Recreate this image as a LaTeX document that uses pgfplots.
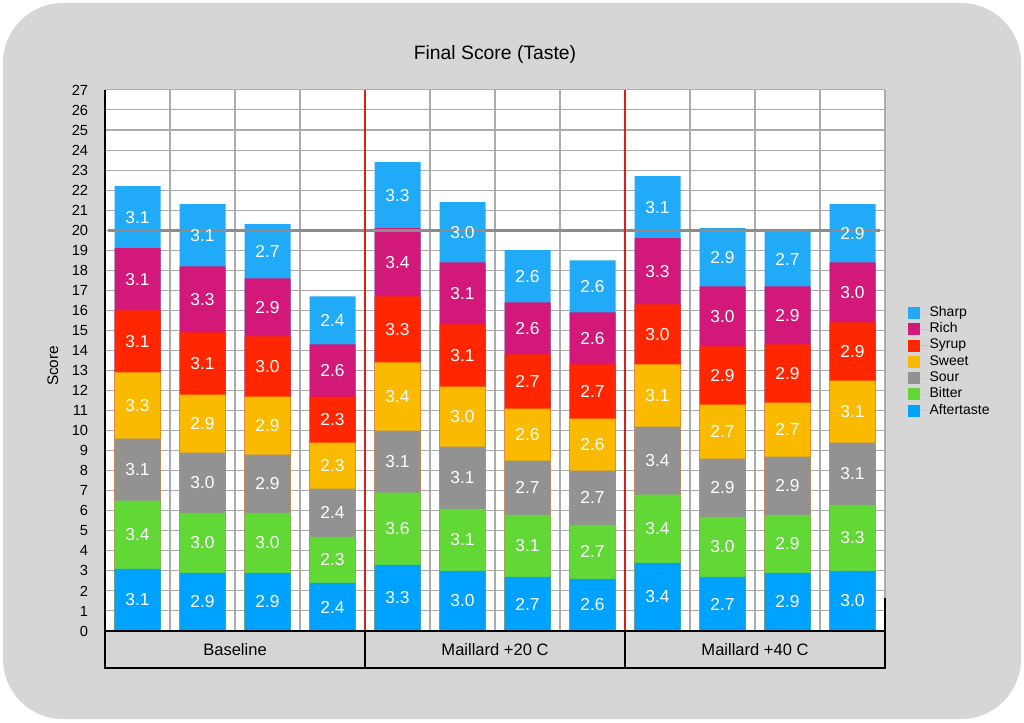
\documentclass[border=0pt]{standalone}
\usepackage{fontspec}
\setmainfont{Liberation Sans}
\usepackage{pgfplots}
\usepackage{pgfplotstable}
\pgfplotsset{compat=1.18}

\definecolor{bg}{RGB}{214,214,214}
\definecolor{cAft}{RGB}{0,162,255}
\definecolor{cBit}{RGB}{97,216,54}
\definecolor{cSour}{RGB}{146,146,146}
\definecolor{cSweet}{RGB}{250,186,0}
\definecolor{cSyrup}{RGB}{255,38,0}
\definecolor{cRich}{RGB}{210,24,120}
\definecolor{cSharp}{RGB}{32,170,248}
\definecolor{gridc}{RGB}{172,172,172}
\definecolor{linetw}{RGB}{140,140,140}
\definecolor{redl}{RGB}{220,30,30}

% a=Aftertaste b=Bitter c=Sour d=Sweet e=Syrup f=Rich g=Sharp
\pgfplotstableread{
x a b c d e f g
0 3.1 3.4 3.1 3.3 3.1 3.1 3.1
1 2.9 3.0 3.0 2.9 3.1 3.3 3.1
2 2.9 3.0 2.9 2.9 3.0 2.9 2.7
3 2.4 2.3 2.4 2.3 2.3 2.6 2.4
4 3.3 3.6 3.1 3.4 3.3 3.4 3.3
5 3.0 3.1 3.1 3.0 3.1 3.1 3.0
6 2.7 3.1 2.7 2.6 2.7 2.6 2.6
7 2.6 2.7 2.7 2.6 2.7 2.6 2.6
8 3.4 3.4 3.4 3.1 3.0 3.3 3.1
9 2.7 3.0 2.9 2.7 2.9 3.0 2.9
10 2.9 2.9 2.9 2.7 2.9 2.9 2.7
11 3.0 3.3 3.1 3.1 2.9 3.0 2.9
}\data
\pgfplotstablecreatecol[create col/expr={\thisrow{a}}]{ca}{\data}
\pgfplotstablecreatecol[create col/expr={\thisrow{ca}+\thisrow{b}}]{cb}{\data}
\pgfplotstablecreatecol[create col/expr={\thisrow{cb}+\thisrow{c}}]{cc}{\data}
\pgfplotstablecreatecol[create col/expr={\thisrow{cc}+\thisrow{d}}]{cd}{\data}
\pgfplotstablecreatecol[create col/expr={\thisrow{cd}+\thisrow{e}}]{ce}{\data}
\pgfplotstablecreatecol[create col/expr={\thisrow{ce}+\thisrow{f}}]{cf}{\data}
\pgfplotstablecreatecol[create col/expr={\thisrow{cf}+\thisrow{g}}]{cg}{\data}
\pgfplotstablecreatecol[create col/expr={\thisrow{a}/2}]{ma}{\data}
\pgfplotstablecreatecol[create col/expr={\thisrow{ca}+\thisrow{b}/2}]{mb}{\data}
\pgfplotstablecreatecol[create col/expr={\thisrow{cb}+\thisrow{c}/2}]{mc}{\data}
\pgfplotstablecreatecol[create col/expr={\thisrow{cc}+\thisrow{d}/2}]{md}{\data}
\pgfplotstablecreatecol[create col/expr={\thisrow{cd}+\thisrow{e}/2}]{me}{\data}
\pgfplotstablecreatecol[create col/expr={\thisrow{ce}+\thisrow{f}/2}]{mf}{\data}
\pgfplotstablecreatecol[create col/expr={\thisrow{cf}+\thisrow{g}/2}]{mg}{\data}

\pgfplotsset{
  seglabel/.style={sharp plot, draw=none, mark=none, forget plot,
    nodes near coords, point meta=explicit symbolic,
    every node near coord/.style={anchor=center, text=white,
      font=\fontsize{13}{15}\selectfont}},
}

\begin{document}
\begin{tikzpicture}
\fill[white] (0,0) rectangle (768pt,541.5pt);
\fill[bg, rounded corners=45pt] (2.25pt,2.25pt) rectangle (765.75pt,539.25pt);
\begin{axis}[
  at={(78.75pt,68.25pt)}, anchor=south west,
  x=48.75pt, y=15.03pt,
  xmin=-0.5, xmax=11.5, ymin=0, ymax=27,
  clip=false,
  ybar, bar width=34.5pt, bar shift=0pt,
  axis background/.style={fill=white},
  axis line style={draw=none},
  ytick={0,1,...,27},
  xtick={0.5,1.5,2.5,4.5,5.5,6.5,8.5,9.5,10.5,11.5},
  xticklabels={},
  xmajorgrids, ymajorgrids,
  grid style={gridc, line width=0.8pt},
  major tick length=0pt,
  yticklabel style={anchor=east, inner sep=0pt, xshift=-12.5pt,
    font=\fontsize{11}{13}\selectfont},
  /pgf/number format/assume math mode=true,
  ylabel={Score},
  ylabel style={at={(axis description cs:-0.067,0.49)}, anchor=center,
    font=\fontsize{11.5}{13}\selectfont},
  title={Final Score (Taste)},
  title style={at={(axis description cs:0.5,1.05)}, anchor=center,
    font=\fontsize{14.5}{16}\selectfont},
  legend style={at={(axis description cs:1.0295,0.603)}, anchor=north west,
    draw=none, fill=none, inner sep=0pt, row sep=0pt,
    font=\fontsize{10.5}{12}\selectfont,
    nodes={inner sep=1pt, text height=7.6pt, text depth=2.6pt}},
  legend cell align=left,
  legend image code/.code={\fill[#1, draw=none] (0pt,-4.5pt) rectangle (9pt,4.5pt);
    \path (0pt,0pt) -- (15pt,0pt);},
]
\addplot[fill=cSharp, draw=none] table[x=x, y=cg] {\data};
\addlegendentry{Sharp}
\addplot[fill=cRich, draw=none] table[x=x, y=cf] {\data};
\addlegendentry{Rich}
\addplot[fill=cSyrup, draw=none] table[x=x, y=ce] {\data};
\addlegendentry{Syrup}
\addplot[fill=cSweet, draw=none] table[x=x, y=cd] {\data};
\addlegendentry{Sweet}
\addplot[fill=cSour, draw=none] table[x=x, y=cc] {\data};
\addlegendentry{Sour}
\addplot[fill=cBit, draw=none] table[x=x, y=cb] {\data};
\addlegendentry{Bitter}
\addplot[fill=cAft, draw=none] table[x=x, y=ca] {\data};
\addlegendentry{Aftertaste}

\addplot[seglabel] table[x=x, y=ma, meta=a] {\data};
\addplot[seglabel] table[x=x, y=mb, meta=b] {\data};
\addplot[seglabel] table[x=x, y=mc, meta=c] {\data};
\addplot[seglabel] table[x=x, y=md, meta=d] {\data};
\addplot[seglabel] table[x=x, y=me, meta=e] {\data};
\addplot[seglabel] table[x=x, y=mf, meta=f] {\data};
\addplot[seglabel] table[x=x, y=mg, meta=g] {\data};

\draw[linetw, line width=2.25pt] (axis cs:-0.45,20) -- (axis cs:11.42,20);
\draw[redl, line width=1.1pt] (axis cs:3.5,0) -- (axis cs:3.5,27);
\draw[redl, line width=1.1pt] (axis cs:7.5,0) -- (axis cs:7.5,27);
\draw[black, line width=1.5pt] (axis cs:-0.5,27) -- (axis cs:-0.5,0);
\draw[black, line width=1.5pt] (axis cs:-0.5,0) rectangle (axis cs:11.5,-1.846);
\draw[black, line width=1.5pt] (axis cs:3.5,0) -- (axis cs:3.5,-1.846);
\draw[black, line width=1.5pt] (axis cs:7.5,0) -- (axis cs:7.5,-1.846);
\draw[black, line width=1.2pt] (axis cs:11.5,0) -- (axis cs:11.5,1.65);
\node[font=\fontsize{12.4}{14}\selectfont] at (axis cs:1.5,-0.93) {Baseline};
\node[font=\fontsize{12.4}{14}\selectfont] at (axis cs:5.5,-0.93) {Maillard +20 C};
\node[font=\fontsize{12.4}{14}\selectfont] at (axis cs:9.5,-0.93) {Maillard +40 C};
\end{axis}
\end{tikzpicture}
\end{document}
